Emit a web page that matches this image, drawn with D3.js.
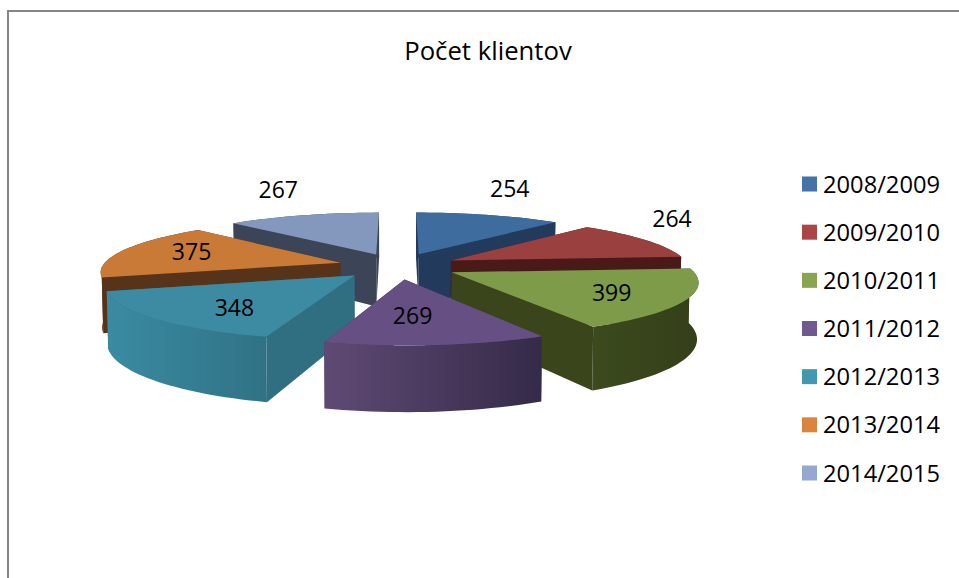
<!DOCTYPE html>
<html><head><meta charset="utf-8">
<script src="https://cdn.jsdelivr.net/npm/d3@7/dist/d3.min.js"></script>
<style>html,body{margin:0;padding:0;background:#fff}svg{display:block}text{font-family:"Open Sans",sans-serif;fill:#000}</style>
</head><body><div id="c"></div>
<script>
(function(){
const categories = ["2008/2009","2009/2010","2010/2011","2011/2012","2012/2013","2013/2014","2014/2015"];
const values = [254,264,399,269,348,375,267];
const title = "Počet klientov";
const legendColors = ["#4572a7","#aa4643","#89a54e","#71588f","#4198af","#db843d","#93a9cf"];
const topColors = ["#3f6c9f","#9a403e","#7d9b48","#664f82","#3d8aa3","#c87a36","#8497bc"];
const sideColors = ["#223a5c","#4a1a18","#3a451c","#4a3a60","#2f6f81","#57331a","#3c4458"];
const wallLeft = ["#2a4870","#5c2422","#3c4a1e","#5f4a74","#3a8ba2","#5c361b","#46506a"];
const wallRight = ["#223a5c","#4a1a18","#343f19","#352a48","#307285","#57331a","#3c4458"];
const labelDx = [91,221,160,8,-120,-149,-98];
const labelDy = [-65,-41,21,37,33,-11,-64];

const W=959,H=578,cx=398,cy=266,R=238,explode=60,depth=54,a=0.00064,b=0.216;
const svg=d3.select("#c").append("svg").attr("width",W).attr("height",H);
const defs=svg.append("defs");
svg.append("path").attr("d",`M8,${H}V11H${W}`).attr("fill","none").attr("stroke","#868686").attr("stroke-width",2);
svg.append("text").attr("x",488).attr("y",60).attr("text-anchor","middle").attr("font-size",25.7).text(title);

const persp=v=>1/(1-a*v);
const upper=([u,v])=>{const s=persp(v);return [cx+u*s,cy+b*v*s];};
const lower=([u,v])=>{const s=persp(v);return [cx+(u*s)*0.995,cy+b*v*s+depth*s];};
const line=d3.line();
const arcs=d3.pie().sort(null).value(d=>d)(values);

const slices=arcs.map((d,i)=>{
  const mid=(d.startAngle+d.endAngle)/2;
  const apex=[explode*Math.sin(mid),-explode*Math.cos(mid)];
  const n=Math.max(8,Math.ceil((d.endAngle-d.startAngle)*30));
  const rim=d3.range(n+1).map(k=>{const t=d.startAngle+(d.endAngle-d.startAngle)*k/n;
    return [apex[0]+R*Math.sin(t),apex[1]-R*Math.cos(t)];});
  return {i,mid,apex,rim};
}).sort((p,q)=>(-Math.cos(p.mid))-(-Math.cos(q.mid)));

slices.forEach(s=>{
  const g=svg.append("g");
  const {i,apex,rim}=s;
  const first=rim[0],last=rim[rim.length-1];
  const faces=[];
  const radial=p=>({v:(apex[1]+p[1])/2,
    d:line([upper(apex),upper(p),lower(p),lower(apex)])+"Z",fill:sideColors[i]});
  faces.push(radial(first),radial(last));
  const gid="w"+i;
  const xs=rim.map(p=>upper(p)[0]);
  const gr=defs.append("linearGradient").attr("id",gid).attr("gradientUnits","userSpaceOnUse")
    .attr("x1",d3.min(xs)).attr("x2",d3.max(xs)).attr("y1",0).attr("y2",0);
  gr.append("stop").attr("offset",0).attr("stop-color",wallLeft[i]);
  gr.append("stop").attr("offset",1).attr("stop-color",wallRight[i]);
  faces.push({v:d3.mean(rim,p=>p[1]),
    d:line(rim.map(upper).concat(rim.slice().reverse().map(lower)))+"Z",fill:`url(#${gid})`});
  faces.sort((p,q)=>p.v-q.v).forEach(f=>g.append("path").attr("d",f.d).attr("fill",f.fill));
  g.append("path").attr("d",line([upper(apex)].concat(rim.map(upper)))+"Z").attr("fill",topColors[i]);
});

arcs.forEach((d,i)=>{
  const mid=(d.startAngle+d.endAngle)/2;
  const p=upper([explode*Math.sin(mid),-explode*Math.cos(mid)]);
  svg.append("text").attr("x",p[0]+labelDx[i]).attr("y",p[1]+labelDy[i]+8)
    .attr("text-anchor","middle").attr("font-size",23).text(values[i]);
});

const legendY=d3.scalePoint().domain(categories).range([184,473]);
categories.forEach((c,i)=>{
  const y=legendY(c);
  svg.append("rect").attr("x",802).attr("y",y-7.5).attr("width",15).attr("height",15).attr("fill",legendColors[i]);
  svg.append("text").attr("x",823).attr("y",y+8.5).attr("font-size",23.7).text(c);
});
})();
</script></body></html>
